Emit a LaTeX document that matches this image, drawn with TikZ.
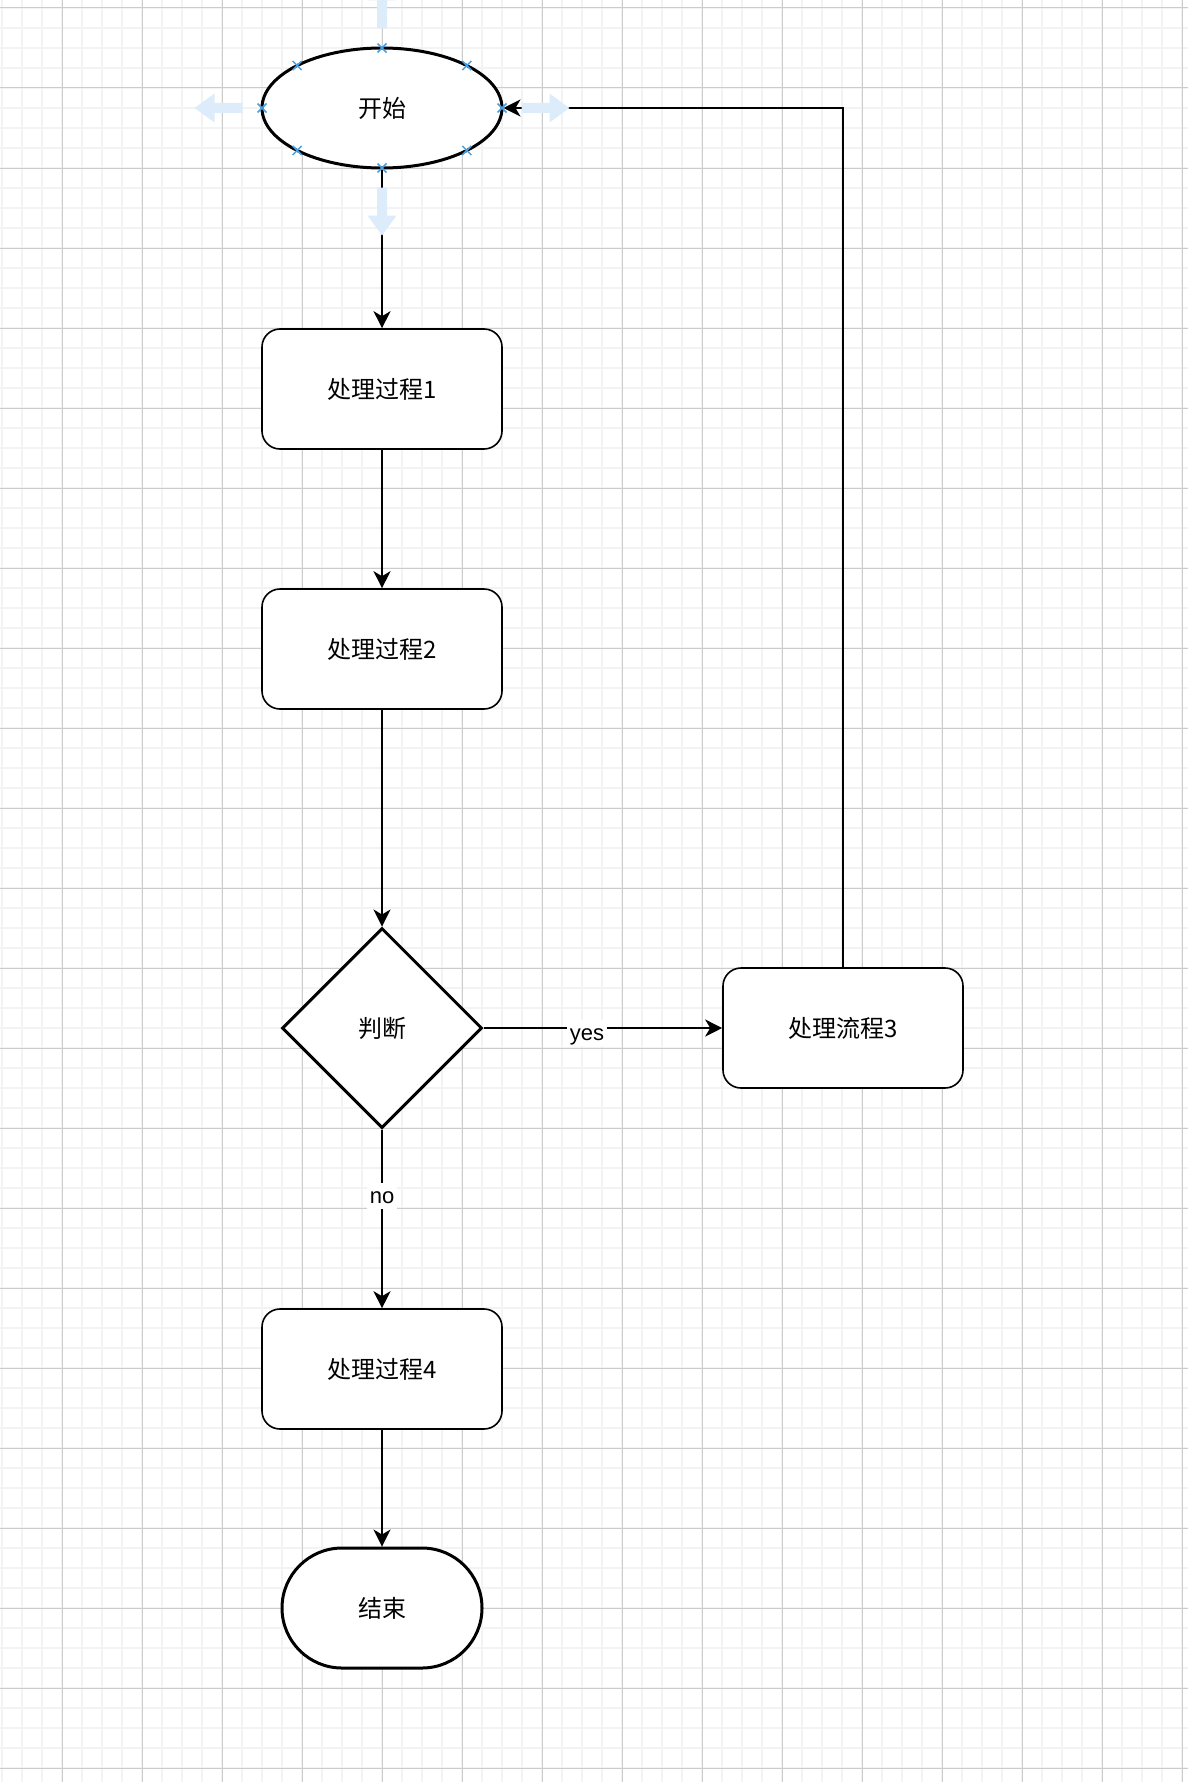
\documentclass[tikz,border=0pt]{standalone}
\usepackage{fontspec}
\setmainfont{Liberation Sans}
\newfontfamily\cjk{Noto Sans CJK SC}
\usetikzlibrary{shapes.geometric,arrows.meta,calc}
\definecolor{gridminor}{RGB}{243,243,243}
\definecolor{gridmajor}{RGB}{204,204,204}
\definecolor{hoverblue}{RGB}{221,236,250}
\definecolor{markblue}{RGB}{72,160,228}
\begin{document}
\begin{tikzpicture}[x=1pt,y=-1pt,
  cjktext/.style={font=\cjk\fontsize{24}{29}\selectfont},
  procbox/.style={cjktext, draw, line width=1.6pt, fill=white, rounded corners=18pt,
    minimum width=240pt, minimum height=120pt, inner sep=0pt},
  startshape/.style={cjktext, ellipse, draw, line width=3pt, fill=white,
    minimum width=240pt, minimum height=120pt, inner sep=0pt},
  decision/.style={cjktext, diamond, aspect=1, draw, line width=3pt, fill=white,
    minimum width=200pt, minimum height=200pt, inner sep=0pt},
  terminator/.style={cjktext, draw, line width=3pt, fill=white, rounded corners=60pt,
    minimum width=200pt, minimum height=120pt, inner sep=0pt},
  conn/.style={draw, line width=1.7pt, -{Stealth[length=17pt,width=17pt,inset=5pt]}},
  edgelabel/.style={font=\fontsize{22}{26}\selectfont, fill=white, inner sep=2.5pt,
    text height=18pt, text depth=3pt, anchor=base},
  hoverarrow/.pic={\fill[hoverblue] (0,-5) -- (28,-5) -- (28,-14.5) -- (48,0) -- (28,14.5) -- (28,5) -- (0,5) -- cycle;},
  xmark/.pic={\draw[markblue, line width=1.5pt] (-4.5,-4.5) -- (4.5,4.5) (-4.5,4.5) -- (4.5,-4.5);}
]
\useasboundingbox (0,0) rectangle (1188,1782);
\clip (0,0) rectangle (1188,1782);
\fill[white] (0,0) rectangle (1188,1782);
% grid
\foreach \x in {2,22,...,1182} \draw[gridminor, line width=1.5pt] (\x,0) -- (\x,1782);
\foreach \y in {8,28,...,1780} \draw[gridminor, line width=1.5pt] (0,\y) -- (1188,\y);
\foreach \x in {62,142,...,1182} \draw[gridmajor, line width=1pt] (\x,0) -- (\x,1782);
\foreach \y in {8,88,...,1780} \draw[gridmajor, line width=1pt] (0,\y) -- (1188,\y);

% nodes
\node[startshape] (start) at (382,108) {开始};
\node[procbox] (p1) at (382,389) {处理过程1};
\node[procbox] (p2) at (382,649) {处理过程2};
\node[decision] (dec) at (382,1028) {判断};
\node[procbox] (p3) at (843,1028) {处理流程3};
\node[procbox] (p4) at (382,1369) {处理过程4};
\node[terminator] (stop) at (382,1608) {结束};

% connectors
\draw[conn] (start.south) -- (p1.north);
\draw[conn] (p1.south) -- (p2.north);
\draw[conn] (p2.south) -- (dec.north);
\draw[conn] (dec.east) -- (p3.west);
\draw[conn] (dec.south) -- (p4.north);
\draw[conn] (p4.south) -- (stop.north);
\draw[conn] (p3.north) |- (start.east);

% edge labels
\node[edgelabel] (yes) at (587,1040) {yes};
\node[edgelabel] (no) at (382,1203) {no};

% hover arrows
\path (start.east) ++(18,0) pic{hoverarrow};
\path (start.west) ++(-18,0) pic[rotate=180]{hoverarrow};
\path (start.south) ++(0,18) pic[rotate=-90]{hoverarrow};
\path (start.north) ++(0,-18) pic[rotate=90]{hoverarrow};

% connection point markers
\foreach \a in {0,45,...,315}
  \path (start.center) ++({120*cos(\a)},{60*sin(\a)}) pic{xmark};
\end{tikzpicture}
\end{document}
